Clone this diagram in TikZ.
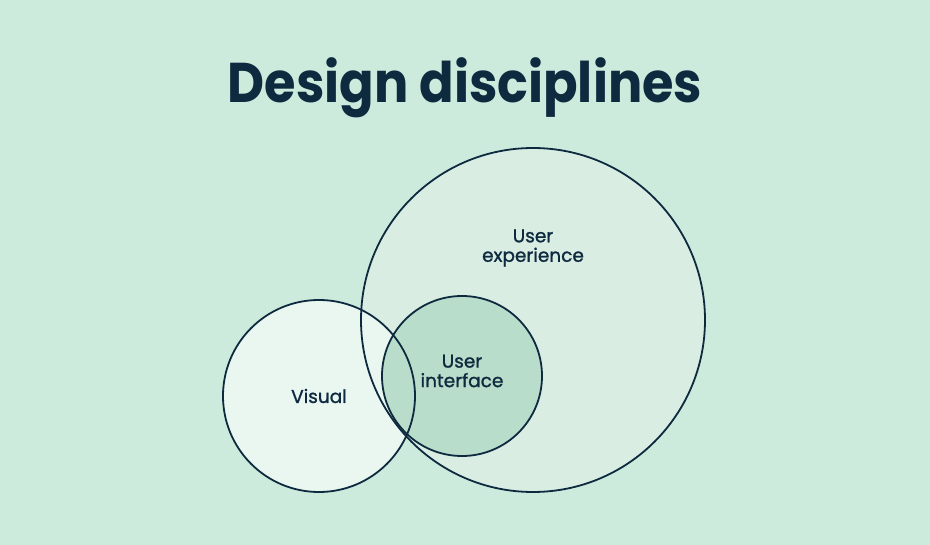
\documentclass[tikz,border=0pt]{standalone}
\usepackage{fontspec}
\setmainfont{Poppins}
\newfontfamily\tagfont{Poppins}[FakeBold=1.2]
\definecolor{mint}{HTML}{CDEBDD}
\definecolor{navy}{HTML}{0E2A3F}
\definecolor{uxfill}{HTML}{D9EDE3}
\definecolor{visfill}{HTML}{EAF6F0}
\definecolor{uifill}{HTML}{B8DDCA}
\tikzstyle{ring}=[draw=navy,line width=1.8pt]
\tikzstyle{heading}=[text=navy,font=\bfseries\fontsize{56}{60}\selectfont]
\tikzstyle{tag}=[text=navy,align=center,font=\tagfont\fontsize{18.5}{19.5}\selectfont]

\begin{document}
\begin{tikzpicture}[x=1pt,y=-1pt]
  \fill[mint] (0,0) rectangle (930,545);
  \useasboundingbox (0,0) rectangle (930,545);
  \node[heading,anchor=base] (title) at (465,103) {\scalebox{0.91}[1]{Design disciplines}};
  % centres of the three sets
  \coordinate (ux) at (533,320);
  \coordinate (vis) at (319,396);
  \coordinate (ui) at (462,376);
  % fills first, outlines on top
  \foreach \c/\r/\col in {ux/172/uxfill,vis/96/visfill,ui/80/uifill} {
    \fill[\col] (\c) circle (\r pt);
  }
  \foreach \c/\r in {ux/172,vis/96,ui/80} {
    \draw[ring] (\c) circle (\r pt);
  }
  \node[tag] (uxlabel) at (533,248) {User\\experience};
  \node[tag] (vislabel) at (319,396) {Visual};
  \node[tag] (uilabel) at (462,371) {User\\interface};
\end{tikzpicture}
\end{document}
